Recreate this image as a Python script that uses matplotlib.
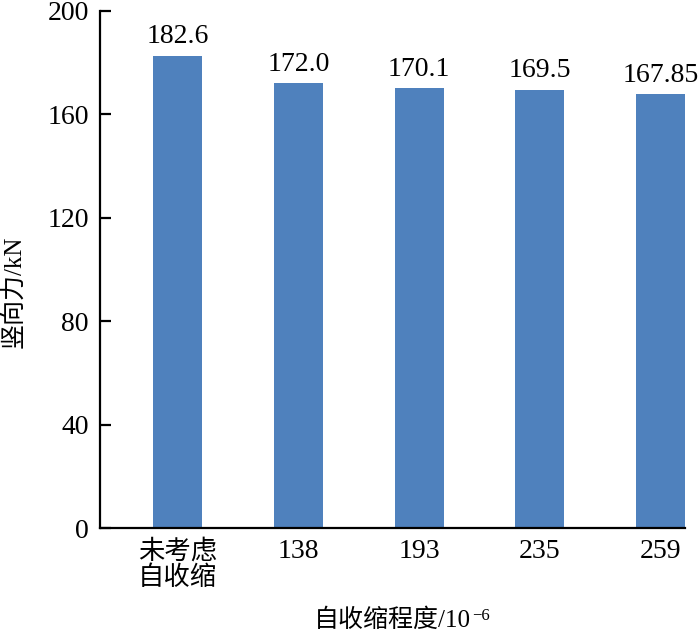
import matplotlib.pyplot as plt

plt.rcParams['font.family'] = ['Liberation Serif', 'Noto Sans CJK SC']
plt.rcParams['axes.unicode_minus'] = False

categories = ['未考虑\n自收缩', '138', '193', '235', '259']
forces = [182.6, 172.0, 170.1, 169.5, 167.85]
value_labels = ['182.6', '172.0', '170.1', '169.5', '167.85']

fig = plt.figure(figsize=(7, 6.38), dpi=100)
ax = fig.add_axes([0.143, 0.1724, 0.8357, 0.8104])

x = list(range(len(categories)))
bars = ax.bar(x, forces, width=0.406, color='#4F81BD')

for bar, lab in zip(bars, value_labels):
    ax.text(bar.get_x() + bar.get_width() / 2, bar.get_height() + 2.5, lab,
            ha='center', va='bottom', fontsize=20)

ax.set_xlim(-0.642, 4.203)
ax.set_ylim(0, 200)
ax.set_yticks([0, 40, 80, 120, 160, 200])
ax.set_xticks(x)
ax.set_xticklabels(categories, fontsize=19, linespacing=1.1)

for s in ['top', 'right']:
    ax.spines[s].set_visible(False)
for s in ['left', 'bottom']:
    ax.spines[s].set_linewidth(1.6)

ax.tick_params(axis='y', direction='in', length=8, width=1.6, pad=8, labelsize=20)
ax.tick_params(axis='x', length=0, pad=8)
for t in ax.get_xticklabels()[1:]:
    t.set_fontsize(20)

ax.set_ylabel('竖向力/kN', fontsize=18)
ax.yaxis.set_label_coords(-0.128, 0.456)
xl = ax.set_xlabel('自收缩程度/10', fontsize=18, labelpad=13)

# superscript exponent placed right after the x label
fig.canvas.draw()
bb = xl.get_window_extent(fig.canvas.get_renderer())
fig.text((bb.x1 + 1) / fig.dpi / fig.get_figwidth(), (bb.y1 + 1) / fig.dpi / fig.get_figheight(),
         '−6', fontsize=12, ha='left', va='top')

fig.savefig('out.png', dpi=100)
